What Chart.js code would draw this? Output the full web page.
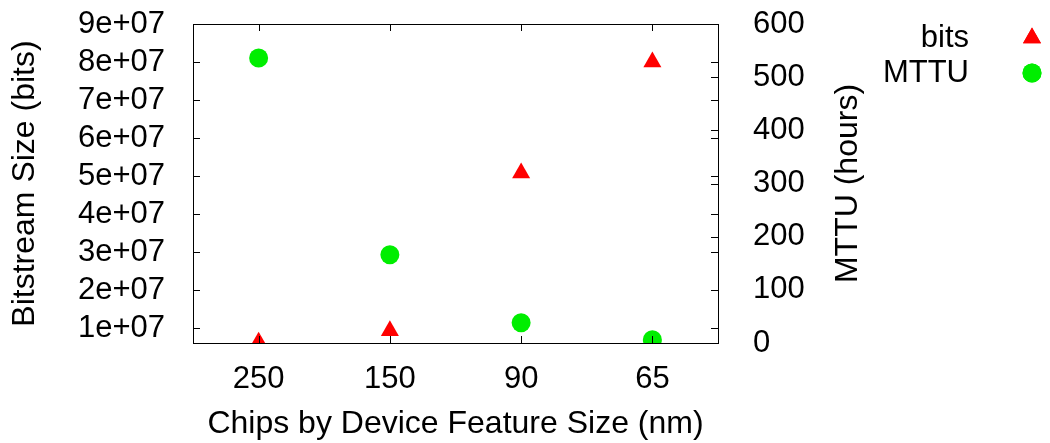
<!DOCTYPE html>
<html>
<head>
<meta charset="utf-8">
<script src="https://cdn.jsdelivr.net/npm/chart.js@4.4.1/dist/chart.umd.min.js"></script>
<style>
html,body{margin:0;padding:0;background:#fff;}
#wrap{width:1050px;height:443px;position:relative;}
</style>
</head>
<body>
<div id="wrap"><canvas id="chart"></canvas></div>
<script>
'use strict';
// values
const featureSizes=['250','150','90','65'];
const bitsValues=[6.3e6,9.3e6,5.08e7,8.0e7];
const mttuValues=[536,166,38,6];
const leftTicks=[1e7,2e7,3e7,4e7,5e7,6e7,7e7,8e7,9e7];
const rightTicks=[0,100,200,300,400,500,600];

const FONT='"Liberation Sans", Arial, Helvetica, sans-serif';
const TICK_SIZE=31;
const TITLE_SIZE=32;
const TICK_LEN=7;

const toPoints=vals=>vals.map((v,i)=>({x:i+1,y:v}));

// gnuplot-like frame with inward (mirrored) ticks
const framePlugin={
  id:'frame',
  afterDatasetsDraw(chart){
    const {ctx,chartArea:a,scales}=chart;
    ctx.save();
    ctx.strokeStyle='#000';
    ctx.lineWidth=1;
    ctx.beginPath();
    scales.x.ticks.forEach((t,i)=>{
      const px=Math.round(scales.x.getPixelForTick(i))+.5;
      ctx.moveTo(px,a.bottom);ctx.lineTo(px,a.bottom-TICK_LEN);
      ctx.moveTo(px,a.top);ctx.lineTo(px,a.top+TICK_LEN);
    });
    scales.y.ticks.forEach((t,i)=>{
      const py=Math.round(scales.y.getPixelForTick(i))+.5;
      ctx.moveTo(a.left,py);ctx.lineTo(a.left+TICK_LEN,py);
      ctx.moveTo(a.right,py);ctx.lineTo(a.right-TICK_LEN,py);
    });
    scales.y1.ticks.forEach((t,i)=>{
      const py=Math.round(scales.y1.getPixelForTick(i))+.5;
      ctx.moveTo(a.right,py);ctx.lineTo(a.right-TICK_LEN,py);
    });
    ctx.stroke();
    ctx.strokeRect(Math.round(a.left)+.5,Math.round(a.top)+.5,Math.round(a.right-a.left),Math.round(a.bottom-a.top));
    // right axis title, reading bottom to top
    ctx.fillStyle='#000';
    ctx.font=TITLE_SIZE+'px '+FONT;
    ctx.textAlign='center';
    ctx.textBaseline='middle';
    ctx.translate(848,(a.top+a.bottom)/2);
    ctx.rotate(-Math.PI/2);
    ctx.fillText('MTTU (hours)',0,0);
    ctx.restore();
  }
};

// legend: text right aligned, marker on its right
const keyPlugin={
  id:'key',
  afterDraw(chart){
    const {ctx}=chart;
    ctx.save();
    ctx.font=TICK_SIZE+'px '+FONT;
    ctx.textAlign='right';
    ctx.textBaseline='middle';
    chart.data.datasets.forEach((ds,i)=>{
      const y=38+i*35;
      ctx.fillStyle='#000';
      ctx.fillText(ds.label,969,y);
      ctx.fillStyle=ds.backgroundColor;
      Chart.helpers.drawPoint(ctx,{pointStyle:ds.pointStyle,radius:ds.pointRadius,rotation:0,borderWidth:0},1032,y);
      ctx.fill();
    });
    ctx.restore();
  }
};

const fitVertical=w=>s=>{s.width=w;s.paddingTop=0;s.paddingBottom=0;};

new Chart(document.getElementById('chart'),{
  type:'scatter',
  data:{datasets:[
    {label:'bits',data:toPoints(bitsValues),yAxisID:'y',pointStyle:'triangle',pointRadius:10.4,pointHoverRadius:10.4,backgroundColor:'#ff0000',borderColor:'#ff0000',borderWidth:0},
    {label:'MTTU',data:toPoints(mttuValues),yAxisID:'y1',pointStyle:'circle',pointRadius:9.5,pointHoverRadius:9.5,backgroundColor:'#00ee00',borderColor:'#00ee00',borderWidth:0}
  ]},
  options:{
    responsive:true,
    maintainAspectRatio:false,
    animation:false,
    layout:{padding:{left:0,right:180,top:24,bottom:0}},
    plugins:{legend:{display:false},tooltip:{enabled:false}},
    scales:{
      x:{
        type:'linear',min:0.5,max:4.5,
        afterBuildTicks:s=>{s.ticks=featureSizes.map((c,i)=>({value:i+1}));},
        afterFit:s=>{s.height=100;s.paddingLeft=0;s.paddingRight=0;},
        grid:{display:false},border:{display:false},
        ticks:{padding:10,autoSkip:false,maxRotation:0,color:'#000',font:{family:FONT,size:TICK_SIZE},callback:v=>featureSizes[v-1]},
        title:{display:true,text:'Chips by Device Feature Size (nm)',color:'#000',font:{family:FONT,size:TITLE_SIZE,lineHeight:1.2},padding:{top:0,bottom:0}}
      },
      y:{
        type:'linear',position:'left',min:6.06e6,max:9e7,
        afterBuildTicks:s=>{s.ticks=leftTicks.map(v=>({value:v}));},
        afterFit:fitVertical(193),
        grid:{display:false},border:{display:false},
        ticks:{padding:20,autoSkip:false,color:'#000',font:{family:FONT,size:TICK_SIZE},callback:v=>(v/1e7).toFixed(0)+'e+07'},
        title:{display:true,text:'Bitstream Size (bits)',color:'#000',font:{family:FONT,size:TITLE_SIZE,lineHeight:1.2},padding:{top:6,bottom:0}}
      },
      y1:{
        type:'linear',position:'right',min:0,max:600,
        afterBuildTicks:s=>{s.ticks=rightTicks.map(v=>({value:v}));},
        afterFit:fitVertical(152),
        grid:{display:false},border:{display:false},
        ticks:{padding:27,autoSkip:false,color:'#000',font:{family:FONT,size:TICK_SIZE}},
        title:{display:false}
      }
    }
  },
  plugins:[framePlugin,keyPlugin]
});
</script>
</body>
</html>
